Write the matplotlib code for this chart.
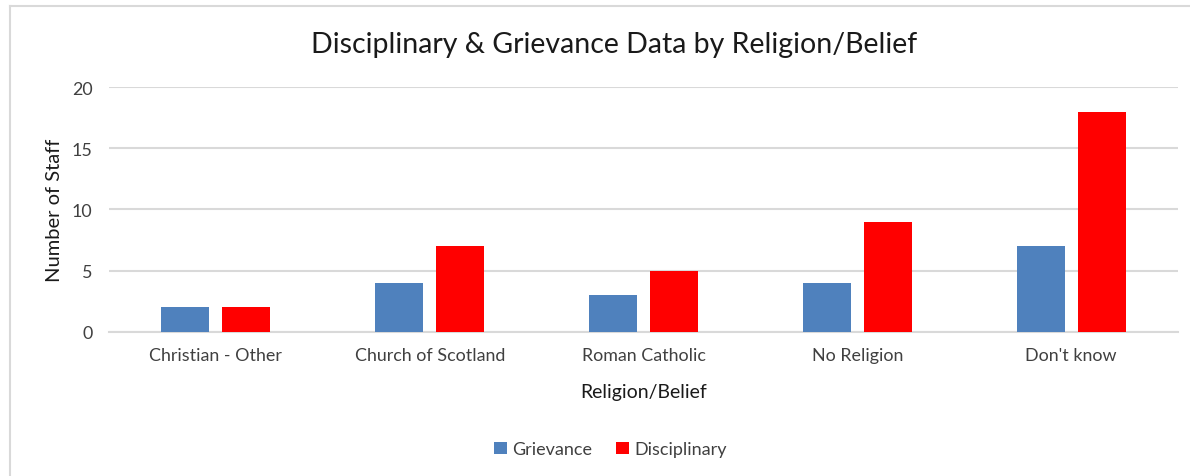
import numpy as np
import matplotlib
matplotlib.use("Agg")
import matplotlib.pyplot as plt
from matplotlib.lines import Line2D

# === DATA ===
categories = ["Christian - Other", "Church of Scotland", "Roman Catholic", "No Religion", "Don't know"]
grievance = [2, 4, 3, 4, 7]
disciplinary = [2, 7, 5, 9, 18]
yticks = [0, 5, 10, 15, 20]

BLUE = "#4f81bd"
RED = "#ff0000"
GRID = "#d9d9d9"
TEXT = "#404040"

plt.rcParams["font.family"] = ["Lato", "DejaVu Sans"]

fig = plt.figure(figsize=(11.9, 4.77), dpi=100)
ax = fig.add_axes([0.0916, 0.302, 0.8984, 0.5135])

x = np.arange(len(categories))
w = 0.225
gap = 0.06
ax.bar(x - (w + gap) / 2, grievance, width=w, color=BLUE, label="Grievance", zorder=3)
ax.bar(x + (w + gap) / 2, disciplinary, width=w, color=RED, label="Disciplinary", zorder=3)

ax.set_xlim(-0.5, len(categories) - 0.5)
ax.set_ylim(0, 20)
ax.set_yticks(yticks)
ax.set_xticks(x)
ax.set_xticklabels(categories)
ax.yaxis.grid(True, color=GRID, linewidth=1.5, zorder=0)
for s in ["top", "right", "left"]:
    ax.spines[s].set_visible(False)
ax.spines["bottom"].set_color(GRID)
ax.spines["bottom"].set_linewidth(1.5)
ax.tick_params(axis="both", length=0, labelsize=12.9, colors=TEXT)
ax.tick_params(axis="x", pad=11)
ax.tick_params(axis="y", pad=12)

ax.set_xlabel("Religion/Belief", fontsize=14, color="#1a1a1a", labelpad=14)
ax.set_ylabel("Number of Staff", fontsize=14.5, color="#1a1a1a", labelpad=6)

fig.text(0.516, 0.905, "Disciplinary & Grievance Data by Religion/Belief",
         ha="center", va="center", fontsize=20.5, color="#1a1a1a")

fig.legend(loc="center", bbox_to_anchor=(0.513, 0.056), ncol=2, frameon=False,
           fontsize=13, handlelength=0.7, handleheight=0.7, handletextpad=0.3,
           columnspacing=1.3, labelcolor=TEXT)

# chart frame (left/top edges visible)
fig.add_artist(Line2D([0.0088, 0.0088], [0, 0.985], color=GRID, linewidth=1.5))
fig.add_artist(Line2D([0.0088, 1.0], [0.985, 0.985], color=GRID, linewidth=1.5))

fig.savefig("out.png", dpi=100, facecolor="white")
